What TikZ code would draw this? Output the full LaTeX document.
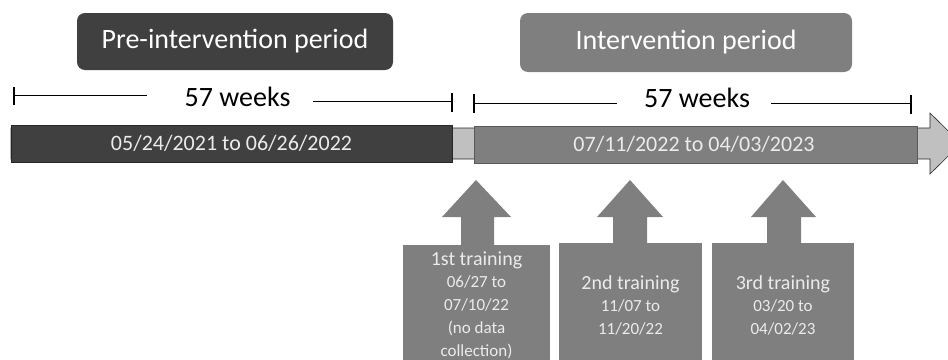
\documentclass[tikz,border=0pt]{standalone}
\usepackage{fontspec}
\setmainfont{Carlito}
\definecolor{darkg}{RGB}{64,64,64}
\definecolor{midg}{RGB}{127,127,127}
\definecolor{lightg}{RGB}{192,192,192}
\definecolor{edgeg}{RGB}{40,40,40}
\definecolor{txtg}{RGB}{235,235,235}
\begin{document}
\begin{tikzpicture}[x=1pt,y=-1pt,
  titlebox/.style={rounded corners=8pt, inner sep=0pt, text=white, font=\fontsize{28}{32}\selectfont},
  barbox/.style={inner sep=0pt, draw=edgeg, line width=0.6pt, text=txtg, font=\fontsize{22}{26}\selectfont},
  trainbox/.style={fill=midg, inner sep=0pt, text=txtg, align=center, font=\fontsize{17}{23}\selectfont},
  uparrow/.style={fill=midg},
  span/.style={line width=1.4pt, black},
  wk/.style={font=\fontsize{28}{32}\selectfont, inner sep=0pt}
]
\useasboundingbox (0,0) rectangle (948,359);
\begin{scope}
\clip (0,0) rectangle (948,359);
% title boxes
\node[titlebox, fill=darkg, minimum width=316pt, minimum height=57pt] (pre) at (235,41.5) {Pre-intervention period};
\node[titlebox, fill=midg, minimum width=332pt, minimum height=59pt] (int) at (686,42.5) {Intervention period};

% spans
\node[wk] (w1) at (237.5,97) {57 weeks};
\coordinate (a1) at (14,95.5);
\coordinate (b1) at (452,101.5);
\draw[span] (a1) -- (147,95.5);
\draw[span] (313,101.5) -- (b1);
\draw[span] (14,87) -- (14,105);
\draw[span] (452,93) -- (452,112);

\node[wk] (w2) at (697,98) {57 weeks};
\coordinate (a2) at (474,103.5);
\coordinate (b2) at (911,103.5);
\draw[span] (a2) -- (617,103.5);
\draw[span] (771,103.5) -- (b2);
\draw[span] (474,94) -- (474,113);
\draw[span] (911,95) -- (911,114);

% timeline arrow (light)
\draw[fill=lightg, draw=edgeg, line width=0.6pt] (11,128) -- (930,128) -- (930,113) -- (961,143.5) -- (930,174) -- (930,159) -- (11,159) -- cycle;
\node[barbox, fill=darkg, minimum width=441pt, minimum height=37pt] (prebar) at (231.5,143.5) {05/24/2021 to 06/26/2022};
\node[barbox, fill=midg, draw=midg!70!black, minimum width=443pt, minimum height=37pt] (intbar) at (695.5,144.5) {\hspace*{-3pt}07/11/2022 to 04/03/2023};

% training boxes
\node[trainbox, minimum width=147pt, minimum height=120pt] (t1) at (476.5,305)
  {{\fontsize{20}{24}\selectfont 1st training}\\[-1pt] 06/27 to\\ 07/10/22\\ (no data\\ collection)};
\node[trainbox, minimum width=143pt, minimum height=124pt] (t2) at (630.5,305)
  {{\fontsize{20}{24}\selectfont 2nd training}\\[-1pt] 11/07 to\\ 11/20/22};
\node[trainbox, minimum width=142pt, minimum height=124pt] (t3) at (783,305)
  {{\fontsize{20}{24}\selectfont 3rd training}\\[-1pt] 03/20 to\\ 04/02/23};

% up arrows
\fill[uparrow] (461,0 |- t1.north) -- (461,217) -- (442,217) -- (476,180) -- (511,217) -- (494,217) -- (494,0 |- t1.north) -- cycle;
\fill[uparrow] (613,0 |- t2.north) -- (613,217) -- (597,217) -- (630,180) -- (663,217) -- (647,217) -- (647,0 |- t2.north) -- cycle;
\fill[uparrow] (767,0 |- t3.north) -- (767,217) -- (751,217) -- (783,180) -- (816,217) -- (801,217) -- (801,0 |- t3.north) -- cycle;
\end{scope}
\end{tikzpicture}
\end{document}
